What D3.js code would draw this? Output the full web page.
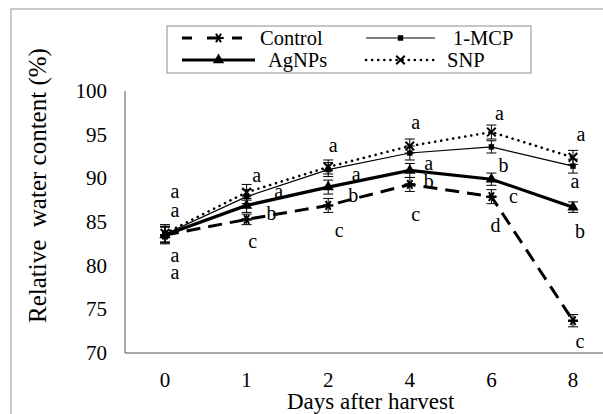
<!DOCTYPE html>
<html lang="en">
<head>
    <meta charset="UTF-8">
    <title>Relative water content</title>
    <script src="https://cdnjs.cloudflare.com/ajax/libs/d3/7.8.5/d3.min.js"></script>
    <style>
        body { margin: 0; background: #fff; }
        svg text { font-family: 'Liberation Serif', 'DejaVu Serif', serif; }
    </style>
</head>
<body>
<svg width="603" height="414"></svg>
<script>
    const days = ['0', '1', '2', '4', '6', '8'];
    const yTicks = [70, 75, 80, 85, 90, 95, 100];

    const control = [83.5, 85.3, 86.9, 89.3, 87.9, 73.7];
    const mcp = [83.6, 87.9, 91.0, 92.9, 93.6, 91.4];
    const agnps = [83.5, 86.9, 89.0, 90.9, 89.9, 86.7];
    const snp = [83.7, 88.4, 91.3, 93.7, 95.3, 92.4];

    const controlErr = [1.0, 0.6, 0.8, 0.8, 0.8, 0.7];
    const mcpErr = [0.9, 0.8, 0.8, 0.8, 0.7, 0.8];
    const agnpsErr = [0.9, 0.8, 0.8, 0.8, 0.7, 0.6];
    const snpErr = [1.0, 0.9, 0.8, 0.8, 0.8, 0.8];

    const controlLetters = ['a', 'c', 'c', 'c', 'd', 'c'];
    const mcpLetters = ['a', 'a', 'a', 'a', 'b', 'a'];
    const agnpsLetters = ['a', 'b', 'b', 'b', 'c', 'b'];
    const snpLetters = ['a', 'a', 'a', 'a', 'a', 'a'];

    // letter offsets from the marker, px
    const controlOff = [[10, 39], [6, 24], [11, 27], [6, 32], [4, 30], [7, 22]];
    const mcpOff = [[10, -22], [32, -4], [28, 6], [19, 12], [12, 20], [2, 17]];
    const agnpsOff = [[10, 22], [25, 10], [25, 10], [19, 13], [22, 19], [7, 26]];
    const snpOff = [[10, -40], [10, -15], [5, -20], [6, -22], [8, -17], [8, -21]];

    const svg = d3.select('svg');

    // outer chart border (cropped at the right and bottom)
    svg.append('rect')
        .attr('x', 11).attr('y', 9)
        .attr('width', 700).attr('height', 500)
        .attr('fill', 'none')
        .attr('stroke', '#a6a6a6')
        .attr('stroke-width', 1.2);

    const x = d3.scalePoint().domain(days).range([165, 573]);
    const y = d3.scaleLinear().domain([70, 100]).range([353, 91]);

    // axes
    svg.append('line')
        .attr('x1', 125).attr('x2', 125).attr('y1', y(100)).attr('y2', y(70))
        .attr('stroke', '#8c8c8c').attr('stroke-width', 1.5);
    svg.append('line')
        .attr('x1', 125).attr('x2', 603).attr('y1', y(70)).attr('y2', y(70))
        .attr('stroke', '#8c8c8c').attr('stroke-width', 1.5);

    svg.selectAll('.ytick').data(yTicks).enter().append('text')
        .attr('x', 107).attr('y', d => y(d))
        .attr('dy', '0.34em')
        .attr('text-anchor', 'end')
        .attr('font-size', '21px')
        .text(d => d);

    svg.selectAll('.xtick').data(days).enter().append('text')
        .attr('x', d => x(d)).attr('y', 380)
        .attr('dy', '0.34em')
        .attr('text-anchor', 'middle')
        .attr('font-size', '21px')
        .text(d => d);

    svg.append('text')
        .attr('x', 287).attr('y', 409)
        .attr('font-size', '23px')
        .text('Days after harvest');

    svg.append('text')
        .attr('transform', 'translate(46,323) rotate(-90)')
        .attr('font-size', '25px')
        .style('white-space', 'pre')
        .text('Relative  water content (%)');

    const series = [
        {name: 'Control', values: control, err: controlErr, letters: controlLetters, off: controlOff,
            width: 3, dash: '14,8', cap: 'butt', marker: 'star'},
        {name: '1-MCP', values: mcp, err: mcpErr, letters: mcpLetters, off: mcpOff,
            width: 1.2, dash: null, cap: 'butt', marker: 'square'},
        {name: 'AgNPs', values: agnps, err: agnpsErr, letters: agnpsLetters, off: agnpsOff,
            width: 3.2, dash: null, cap: 'butt', marker: 'triangle'},
        {name: 'SNP', values: snp, err: snpErr, letters: snpLetters, off: snpOff,
            width: 2.6, dash: '0.1,6', cap: 'round', marker: 'x'}
    ];

    const drawMarker = (g, type, cx, cy) => {
        if (type === 'square') {
            g.append('path').attr('d', d3.symbol().type(d3.symbolSquare).size(30)())
                .attr('transform', `translate(${cx},${cy})`).attr('fill', 'black');
        } else if (type === 'triangle') {
            g.append('path').attr('d', d3.symbol().type(d3.symbolTriangle).size(55)())
                .attr('transform', `translate(${cx},${cy})`).attr('fill', 'black');
        } else if (type === 'x') {
            g.append('path').attr('d', d3.symbol().type(d3.symbolTimes).size(50)())
                .attr('transform', `translate(${cx},${cy})`)
                .attr('fill', 'none').attr('stroke', 'black').attr('stroke-width', 2);
        } else {
            g.append('path').attr('d', d3.symbol().type(d3.symbolAsterisk).size(70)())
                .attr('transform', `translate(${cx},${cy}) rotate(90)`)
                .attr('fill', 'none').attr('stroke', 'black').attr('stroke-width', 2);
            g.append('line')
                .attr('x1', cx - 5).attr('x2', cx + 5).attr('y1', cy).attr('y2', cy)
                .attr('stroke', 'black').attr('stroke-width', 2);
        }
    };

    const line = d3.line().x((d, i) => x(days[i])).y(d => y(d));
    const plot = svg.append('g');

    series.forEach(s => {
        plot.append('path')
            .attr('d', line(s.values))
            .attr('fill', 'none')
            .attr('stroke', 'black')
            .attr('stroke-width', s.width)
            .attr('stroke-linecap', s.cap)
            .attr('stroke-dasharray', s.dash);
    });

    series.forEach(s => {
        s.values.forEach((v, i) => {
            const cx = x(days[i]);
            const top = y(v + s.err[i]), bot = y(v - s.err[i]);
            plot.append('path')
                .attr('d', `M${cx},${top}V${bot}M${cx - 5},${top}H${cx + 5}M${cx - 5},${bot}H${cx + 5}`)
                .attr('stroke', 'black').attr('stroke-width', 1).attr('fill', 'none');
            drawMarker(plot, s.marker, cx, y(v));
            plot.append('text')
                .attr('x', cx + s.off[i][0]).attr('y', y(v) + s.off[i][1])
                .attr('dy', '0.25em')
                .attr('text-anchor', 'middle')
                .attr('font-size', '20px')
                .text(s.letters[i]);
        });
    });

    // legend
    const legend = svg.append('g');
    legend.append('rect')
        .attr('x', 167).attr('y', 26).attr('width', 364).attr('height', 47)
        .attr('fill', 'white').attr('stroke', '#8c8c8c').attr('stroke-width', 1);

    const legendPos = [
        {x1: 182, x2: 255, cy: 38, tx: 260},
        {x1: 366, x2: 435, cy: 38, tx: 453},
        {x1: 182, x2: 255, cy: 60, tx: 268},
        {x1: 366, x2: 435, cy: 60, tx: 447}
    ];
    series.forEach((s, i) => {
        const p = legendPos[i];
        legend.append('line')
            .attr('x1', p.x1).attr('x2', p.x2).attr('y1', p.cy).attr('y2', p.cy)
            .attr('stroke', 'black')
            .attr('stroke-width', s.width)
            .attr('stroke-linecap', s.cap)
            .attr('stroke-dasharray', s.dash ? (s.name === 'Control' ? '10,15' : s.dash) : null);
        drawMarker(legend, s.marker, (p.x1 + p.x2) / 2, p.cy);
        legend.append('text')
            .attr('x', p.tx).attr('y', p.cy).attr('dy', '0.33em')
            .attr('font-size', '20.5px')
            .text(s.name);
    });
</script>
</body>
</html>
